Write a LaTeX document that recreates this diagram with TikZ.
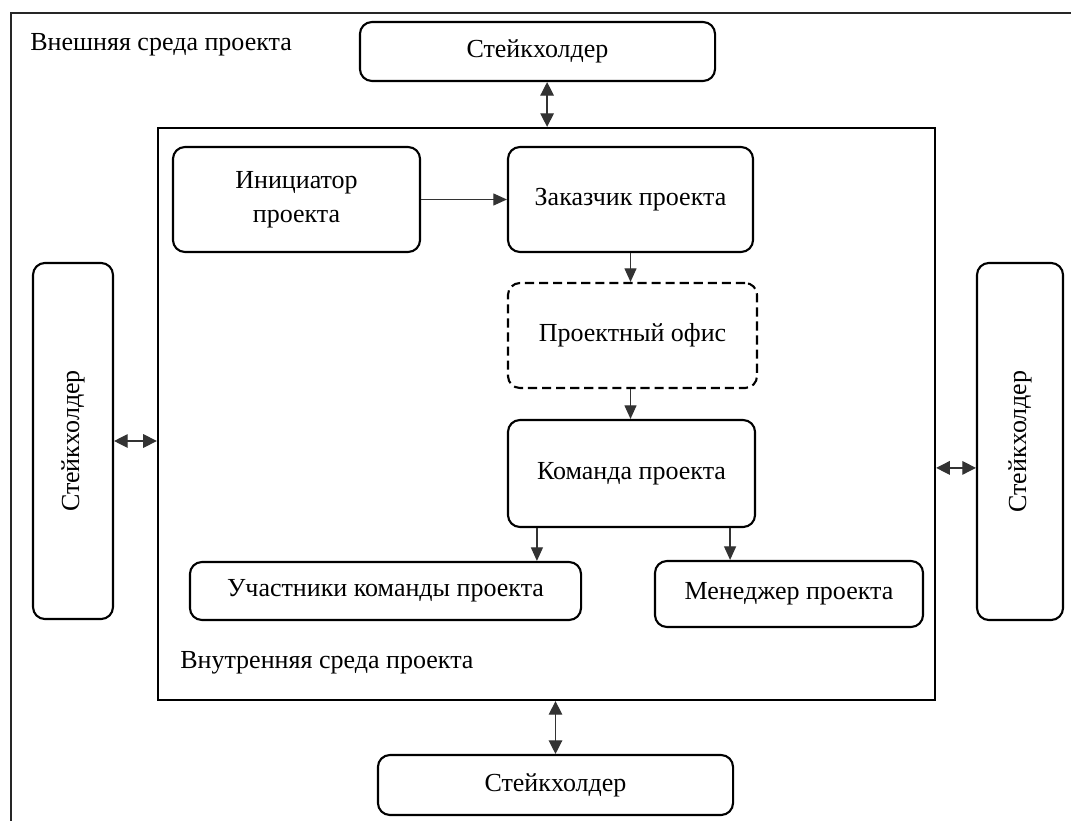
\documentclass[tikz,border=0pt]{standalone}
\usepackage{fontspec}
\setmainfont{Liberation Serif}
\usepackage{tikz}
\usetikzlibrary{arrows.meta,positioning,calc}
\tikzset{
    % rounded boxes
    roundbox/.style={
        draw,
        line width=1.5pt,
        rounded corners=0.3cm,
        inner sep=2pt,
        align=center,
        font=\fontsize{18.5}{24}\selectfont
    },
    dashbox/.style={
        roundbox,
        dash pattern=on 6.5pt off 3.5pt
    },
    framebox/.style={
        draw,
        line width=1.5pt,
        inner sep=0pt
    },
    % arrows
    onearrow/.style={
        line width=0.9pt,
        black!80,
        -{Triangle[length=0.34cm, width=0.3cm]}
    },
    twoarrow/.style={
        line width=0.9pt,
        black!80,
        {Triangle[length=0.34cm, width=0.34cm]}-{Triangle[length=0.34cm, width=0.34cm]}
    },
    plainlabel/.style={
        anchor=west,
        inner sep=0pt,
        font=\fontsize{18.5}{22}\selectfont
    }
}

\begin{document}
\begin{tikzpicture}[x=0.025cm,y=-0.025cm]
    \useasboundingbox (0,0) rectangle (1071,821);

    % outer environment
    \draw[line width=1.7pt,black!85] (1071,13) -- (11,13) -- (11,821);
    \node[plainlabel] (outerlabel) at (30,45) {Внешняя среда проекта};

    % inner environment
    \node[framebox, minimum width=19.425cm, minimum height=14.3cm] (inner) at (546.5,414) {};
    \node[plainlabel] (innerlabel) at (180,663) {Внутренняя среда проекта};

    % stakeholders
    \node[roundbox, minimum width=8.875cm, minimum height=1.475cm] (stakeTop) at (537.5,51.5) {Стейкхолдер};
    \node[roundbox, minimum width=8.875cm, minimum height=1.5cm] (stakeBot) at (555.5,785) {Стейкхолдер};
    \node[roundbox, rotate=90, minimum width=8.9cm, minimum height=2cm] (stakeLeft) at (73,441) {Стейкхолдер};
    \node[roundbox, rotate=90, minimum width=8.925cm, minimum height=2.15cm] (stakeRight) at (1020,441.5) {Стейкхолдер};

    % project roles
    \node[roundbox, minimum width=6.175cm, minimum height=2.625cm] (init) at (296.5,199.5) {Инициатор\\проекта};
    \node[roundbox, minimum width=6.125cm, minimum height=2.625cm] (client) at (630.5,199.5) {Заказчик проекта};
    \node[dashbox, minimum width=6.225cm, minimum height=2.625cm] (office) at (632.5,335.5) {Проектный офис};
    \node[roundbox, minimum width=6.175cm, minimum height=2.675cm] (team) at (631.5,473.5) {Команда проекта};
    \node[roundbox, minimum width=9.775cm, minimum height=1.45cm] (members) at (385.5,591) {Участники команды проекта};
    \node[roundbox, minimum width=6.7cm, minimum height=1.65cm] (manager) at (789,594) {Менеджер проекта};

    % links
    \draw[onearrow] (init.east) -- (client.west);
    \draw[onearrow] (client.south) -- (client.south |- office.north);
    \draw[onearrow] (client.south |- office.south) -- (client.south |- team.north);
    \draw[onearrow] ([xshift=0.75cm]team.south west) -- ([xshift=0.75cm]team.south west |- members.north);
    \draw[onearrow] ([xshift=-0.65cm]team.south east) -- ([xshift=-0.65cm]team.south east |- manager.north);

    % stakeholder links
    \draw[twoarrow] ([xshift=0.24cm]stakeTop.south) -- ([xshift=0.24cm]stakeTop.south |- inner.north);
    \draw[twoarrow] (inner.south -| stakeBot.north) -- (stakeBot.north);
    \draw[twoarrow] (stakeLeft.south) -- (stakeLeft.south -| inner.west);
    \draw[twoarrow] ([yshift=-0.66cm]stakeRight.north -| inner.east) -- ([yshift=-0.66cm]stakeRight.north);
\end{tikzpicture}
\end{document}
